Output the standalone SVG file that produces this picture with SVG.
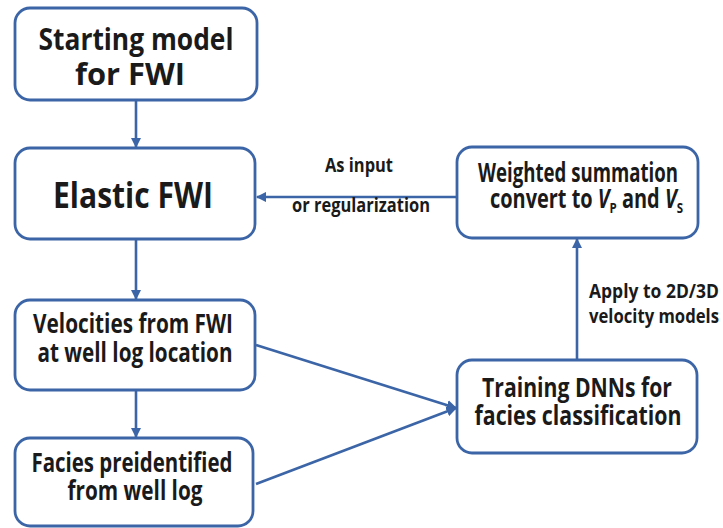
<svg xmlns="http://www.w3.org/2000/svg" width="723" height="528" viewBox="0 0 723 528">
<style>
.box{fill:#fff;stroke:#3b65a6;stroke-width:2.8}
.t{font-family:"Open Sans","Liberation Sans",sans-serif;font-weight:bold;fill:#1a1a1a;text-anchor:middle}
.big{font-size:31px}
.mid{font-size:26px}
.lbl{font-size:19px}
.c{fill:none;stroke:#3b65a6;stroke-width:2.6}
</style>
<defs>
<marker id="ah" viewBox="0 0 10 10" refX="9" refY="5" markerWidth="4" markerHeight="4" orient="auto" markerUnits="strokeWidth">
<path d="M0,0 L10,5 L0,10 z" fill="#3b65a6"/>
</marker>
</defs>
<g id="connectors">
<line class="c" x1="136" y1="100" x2="136" y2="147" marker-end="url(#ah)"/>
<line class="c" x1="136" y1="239" x2="136" y2="299" marker-end="url(#ah)"/>
<line class="c" x1="136" y1="390" x2="136" y2="437" marker-end="url(#ah)"/>
<line class="c" x1="457" y1="197" x2="257" y2="197" marker-end="url(#ah)"/>
<line class="c" x1="577" y1="360" x2="577" y2="239" marker-end="url(#ah)"/>
<line class="c" x1="256" y1="345" x2="456" y2="408" marker-end="url(#ah)"/>
<line class="c" x1="256" y1="484" x2="456" y2="408" marker-end="url(#ah)"/>
<text class="t lbl" x="359" y="172" textLength="68" lengthAdjust="spacingAndGlyphs">As input</text>
<text class="t lbl" x="361" y="212" textLength="138" lengthAdjust="spacingAndGlyphs">or regularization</text>
<text class="t lbl" x="654" y="298" textLength="130" lengthAdjust="spacingAndGlyphs">Apply to 2D/3D</text>
<text class="t lbl" x="654" y="323" textLength="130" lengthAdjust="spacingAndGlyphs">velocity models</text>
</g>
<g id="start">
<rect class="box" x="15" y="8" width="242" height="92" rx="15"/>
<text class="t big" x="136" y="50" textLength="195" lengthAdjust="spacingAndGlyphs">Starting model</text>
<text class="t big" x="130" y="85" textLength="110" lengthAdjust="spacingAndGlyphs">for FWI</text>
</g>
<g id="elastic">
<rect class="box" x="15" y="148" width="240" height="91" rx="15"/>
<text class="t" x="133" y="208" font-size="36" textLength="160" lengthAdjust="spacingAndGlyphs">Elastic FWI</text>
</g>
<g id="velocities">
<rect class="box" x="15" y="300" width="240" height="90" rx="15"/>
<text class="t mid" x="133" y="333" textLength="200" lengthAdjust="spacingAndGlyphs">Velocities from FWI</text>
<text class="t mid" x="135" y="362" textLength="195" lengthAdjust="spacingAndGlyphs">at well log location</text>
</g>
<g id="facies">
<rect class="box" x="15" y="438" width="238" height="88" rx="15"/>
<text class="t mid" x="132" y="472" textLength="201" lengthAdjust="spacingAndGlyphs">Facies preidentified</text>
<text class="t mid" x="135" y="500" textLength="135" lengthAdjust="spacingAndGlyphs">from well log</text>
</g>
<g id="training">
<rect class="box" x="457" y="360" width="240" height="93" rx="15"/>
<text class="t mid" x="577" y="397" textLength="190" lengthAdjust="spacingAndGlyphs">Training DNNs for</text>
<text class="t mid" x="578" y="425" textLength="207" lengthAdjust="spacingAndGlyphs">facies classification</text>
</g>
<g id="weighted">
<rect class="box" x="457" y="147" width="241" height="91" rx="15"/>
<text class="t mid" x="578" y="182" textLength="200" lengthAdjust="spacingAndGlyphs">Weighted summation</text>
<text class="t mid" x="490" y="208" style="text-anchor:start" textLength="193" lengthAdjust="spacingAndGlyphs">convert to <tspan font-style="italic">V</tspan><tspan font-size="15" dy="5">P</tspan><tspan dy="-5"> and </tspan><tspan font-style="italic">V</tspan><tspan font-size="15" dy="5">S</tspan></text>
</g>
</svg>
